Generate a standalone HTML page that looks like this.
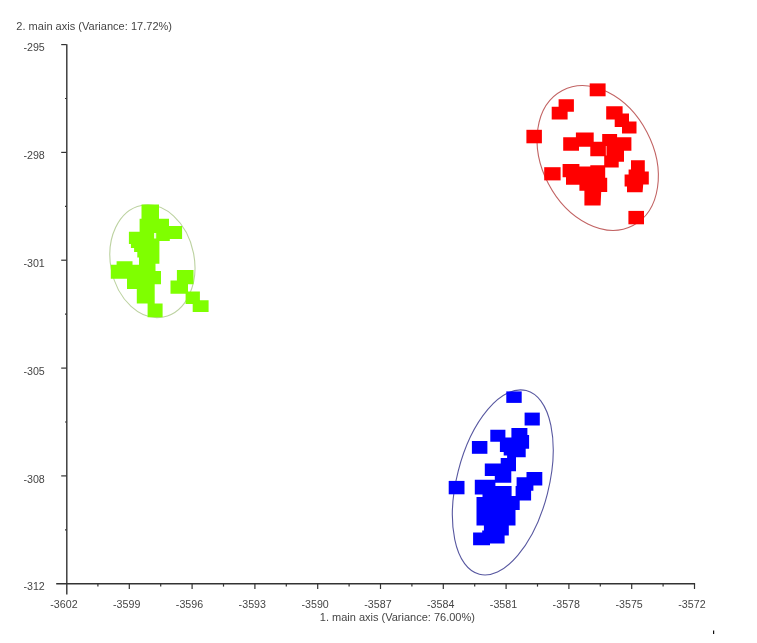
<!DOCTYPE html>
<html lang="en"><head><meta charset="utf-8"><title>PCA plot</title>
<style>
html,body{margin:0;padding:0;background:#fff;}
body{width:757px;height:643px;overflow:hidden;}
svg{display:block;}
text{font-family:"Liberation Sans",sans-serif;fill:#454545;}
.t{font-size:11px;}
.l{font-size:10.67px;}
</style></head><body>
<svg width="757" height="643" viewBox="0 0 757 643">
<rect width="757" height="643" fill="#fff"/>
<g fill="none" stroke-width="1.1">
<ellipse cx="152.4" cy="261.2" rx="41.9" ry="56.8" transform="rotate(-11.1 152.4 261.2)" stroke="#bcd2a0"/>
<ellipse cx="597.7" cy="158" rx="55.6" ry="76.2" transform="rotate(-27.6 597.7 158)" stroke="#c26464"/>
<ellipse cx="502.8" cy="482.4" rx="46" ry="94.8" transform="rotate(14.3 502.8 482.4)" stroke="#5858a0"/>
</g>
<polygon fill="#7fff00" points="141.5,204.5 159.0,204.5 159.0,218.8 169.0,218.8 169.0,225.9 182.1,225.9 182.1,239.1 169.8,239.1 169.8,241.0 159.4,241.0 159.4,263.7 155.5,263.7 155.5,270.9 161.0,270.9 161.0,284.3 154.7,284.3 154.7,303.4 162.6,303.4 162.6,317.3 147.6,317.3 147.6,303.4 136.8,303.4 136.8,289.1 127.0,289.1 127.0,278.8 110.8,278.8 110.8,264.8 116.6,264.8 116.6,261.3 132.5,261.3 132.5,264.8 139.0,264.8 139.0,257.6 137.3,257.6 137.3,252.0 134.1,252.0 134.1,248.1 130.9,248.1 130.9,244.1 128.9,244.1 128.9,231.8 139.6,231.8 139.6,218.8 141.5,218.8"/>
<polygon fill="#7fff00" points="176.9,270.1 193.5,270.1 193.5,284.3 188.0,284.3 188.0,291.5 199.9,291.5 199.9,300.2 208.6,300.2 208.6,312.1 192.7,312.1 192.7,304.1 185.6,304.1 185.6,293.8 170.5,293.8 170.5,280.4 176.9,280.4"/>
<rect x="154" y="233" width="2.2" height="5.5" fill="#e8ffd0"/>
<polygon fill="#ff0000" points="589.7,83.4 605.6,83.4 605.6,96.3 589.7,96.3"/>
<polygon fill="#ff0000" points="526.4,129.8 541.9,129.8 541.9,143.3 526.4,143.3"/>
<polygon fill="#ff0000" points="558.6,99.2 573.9,99.2 573.9,111.7 567.6,111.7 567.6,119.4 551.7,119.4 551.7,106.7 558.6,106.7"/>
<polygon fill="#ff0000" points="606.2,106.3 622.6,106.3 622.6,113.6 629.0,113.6 629.0,121.6 636.5,121.6 636.5,133.5 622.0,133.5 622.0,126.9 614.7,126.9 614.7,119.6 606.2,119.6"/>
<polygon fill="#ff0000" points="563.2,137.3 575.9,137.3 575.9,132.5 593.7,132.5 593.7,141.8 602.2,141.8 602.2,133.9 617.1,133.9 617.1,137.3 631.4,137.3 631.4,150.8 624.0,150.8 624.0,161.7 618.7,161.7 618.7,167.6 604.2,167.6 604.2,156.3 590.3,156.3 590.3,146.8 579.0,146.8 579.0,150.8 563.2,150.8"/>
<polygon fill="#ff0000" points="631.0,160.3 644.8,160.3 644.8,171.6 648.8,171.6 648.8,184.4 643.2,184.4 642.6,192.3 627.0,192.3 627.0,186.4 624.6,186.4 624.6,174.5 628.6,174.5 628.6,169.6 631.0,169.6"/>
<polygon fill="#ff0000" points="544.2,167.2 560.6,167.2 560.6,180.4 544.2,180.4"/>
<polygon fill="#ff0000" points="562.6,163.9 579.4,163.9 579.4,166.5 590.3,166.5 590.3,165.3 605.2,165.3 605.2,177.8 607.2,177.8 607.2,192.1 601.2,192.1 600.6,205.4 584.4,205.4 584.4,190.7 579.4,190.7 579.4,184.7 566.0,184.7 566.0,177.2 562.6,177.2"/>
<polygon fill="#ff0000" points="628.4,210.9 644.0,210.9 644.0,224.3 628.4,224.3"/>
<rect x="605.8" y="146" width="0.9" height="9.5" fill="#ffb0b0"/>
<polygon fill="#0000ff" points="506.3,391.4 521.7,391.4 521.7,402.9 506.3,402.9"/>
<polygon fill="#0000ff" points="524.6,412.6 539.8,412.6 539.8,425.5 524.6,425.5"/>
<polygon fill="#0000ff" points="471.9,441.0 487.4,441.0 487.4,453.8 471.9,453.8"/>
<polygon fill="#0000ff" points="448.7,480.9 464.5,480.9 464.5,494.3 448.7,494.3"/>
<polygon fill="#0000ff" points="490.3,429.8 505.4,429.8 505.4,437.5 511.4,437.5 511.4,428.1 527.4,428.1 527.4,435.0 529.1,435.0 529.1,448.7 525.7,448.7 525.7,457.3 516.0,457.3 516.0,471.2 511.3,471.2 511.3,482.8 494.8,482.8 494.8,476.1 484.8,476.1 484.8,463.5 500.7,463.5 500.7,458.1 507.1,458.1 507.1,455.6 503.7,455.6 503.7,452.1 499.9,452.1 499.9,441.8 490.3,441.8"/>
<polygon fill="#0000ff" points="474.8,479.8 495.4,479.8 495.4,486.1 511.6,486.1 511.6,496.0 515.6,496.0 515.6,486.0 516.6,486.0 516.6,477.2 526.5,477.2 526.5,471.9 542.3,471.9 542.3,485.5 533.4,485.5 533.4,490.8 531.1,490.8 531.1,500.6 519.7,500.6 519.7,510.0 515.5,510.0 515.5,525.6 508.8,525.6 508.8,535.5 504.6,535.5 504.6,543.6 490.0,543.6 490.0,545.3 473.1,545.3 473.1,532.4 482.2,532.4 482.2,530.4 483.9,530.4 483.9,525.6 476.5,525.6 476.5,497.0 482.5,497.0 482.5,494.4 474.8,494.4"/>
<g stroke="#333" stroke-width="1.4" fill="none">
<line x1="66.8" y1="44.3" x2="66.8" y2="594.4"/>
<line x1="56.2" y1="583.7" x2="695.1" y2="583.7"/>
</g>
<g stroke="#333" stroke-width="1.2" fill="none">
<line x1="61.2" y1="44.6" x2="66.5" y2="44.6"/>
<line x1="61.2" y1="152.4" x2="66.5" y2="152.4"/>
<line x1="61.2" y1="260.2" x2="66.5" y2="260.2"/>
<line x1="61.2" y1="368.1" x2="66.5" y2="368.1"/>
<line x1="61.2" y1="475.9" x2="66.5" y2="475.9"/>
<line x1="65" y1="98.5" x2="66.5" y2="98.5"/>
<line x1="65" y1="206.3" x2="66.5" y2="206.3"/>
<line x1="65" y1="314.2" x2="66.5" y2="314.2"/>
<line x1="65" y1="422.0" x2="66.5" y2="422.0"/>
<line x1="65" y1="529.8" x2="66.5" y2="529.8"/>
<line x1="129.3" y1="583.7" x2="129.3" y2="589"/>
<line x1="192.1" y1="583.7" x2="192.1" y2="589"/>
<line x1="254.9" y1="583.7" x2="254.9" y2="589"/>
<line x1="317.7" y1="583.7" x2="317.7" y2="589"/>
<line x1="380.5" y1="583.7" x2="380.5" y2="589"/>
<line x1="443.3" y1="583.7" x2="443.3" y2="589"/>
<line x1="506.1" y1="583.7" x2="506.1" y2="589"/>
<line x1="568.9" y1="583.7" x2="568.9" y2="589"/>
<line x1="631.7" y1="583.7" x2="631.7" y2="589"/>
<line x1="694.5" y1="583.7" x2="694.5" y2="589"/>
<line x1="97.9" y1="583.7" x2="97.9" y2="586.6"/>
<line x1="160.7" y1="583.7" x2="160.7" y2="586.6"/>
<line x1="223.5" y1="583.7" x2="223.5" y2="586.6"/>
<line x1="286.3" y1="583.7" x2="286.3" y2="586.6"/>
<line x1="349.1" y1="583.7" x2="349.1" y2="586.6"/>
<line x1="411.9" y1="583.7" x2="411.9" y2="586.6"/>
<line x1="474.7" y1="583.7" x2="474.7" y2="586.6"/>
<line x1="537.5" y1="583.7" x2="537.5" y2="586.6"/>
<line x1="600.3" y1="583.7" x2="600.3" y2="586.6"/>
<line x1="663.1" y1="583.7" x2="663.1" y2="586.6"/>
</g>
<text class="l" x="44.8" y="51.2" text-anchor="end">-295</text>
<text class="l" x="44.8" y="159.0" text-anchor="end">-298</text>
<text class="l" x="44.8" y="266.8" text-anchor="end">-301</text>
<text class="l" x="44.8" y="374.7" text-anchor="end">-305</text>
<text class="l" x="44.8" y="482.5" text-anchor="end">-308</text>
<text class="l" x="44.8" y="590.3" text-anchor="end">-312</text>
<text class="l" x="50.2" y="608.3" textLength="27.4">-3602</text>
<text class="l" x="113.0" y="608.3" textLength="27.4">-3599</text>
<text class="l" x="175.8" y="608.3" textLength="27.4">-3596</text>
<text class="l" x="238.6" y="608.3" textLength="27.4">-3593</text>
<text class="l" x="301.4" y="608.3" textLength="27.4">-3590</text>
<text class="l" x="364.2" y="608.3" textLength="27.4">-3587</text>
<text class="l" x="427.0" y="608.3" textLength="27.4">-3584</text>
<text class="l" x="489.8" y="608.3" textLength="27.4">-3581</text>
<text class="l" x="552.6" y="608.3" textLength="27.4">-3578</text>
<text class="l" x="615.4" y="608.3" textLength="27.4">-3575</text>
<text class="l" x="678.2" y="608.3" textLength="27.4">-3572</text>
<text class="t" x="16.3" y="29.6" textLength="155.7">2. main axis (Variance: 17.72%)</text>
<text class="t" x="319.8" y="620.7" textLength="155.1">1. main axis (Variance: 76.00%)</text>
<rect x="713" y="630.5" width="1.2" height="3.5" fill="#111"/>
</svg></body></html>
